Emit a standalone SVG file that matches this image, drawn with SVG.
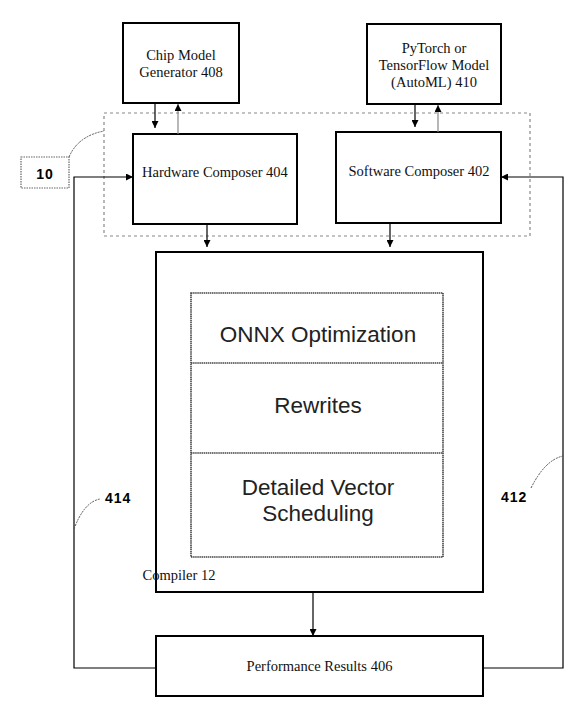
<svg xmlns="http://www.w3.org/2000/svg" width="583" height="702" viewBox="0 0 583 702">
<defs>
<style>
.box{fill:#fff;stroke:#000;stroke-width:2}
.serif{font-family:"Liberation Serif","Times New Roman",serif;font-size:14.5px;fill:#111;text-anchor:middle}
.sans{font-family:"Liberation Sans",Arial,sans-serif;font-size:22.5px;fill:#222;text-anchor:middle}
.lbl{font-family:"Liberation Sans",Arial,sans-serif;font-size:14px;font-weight:bold;fill:#000;letter-spacing:1px}
.ln{fill:none;stroke:#000;stroke-width:1.2}
.gl{fill:none;stroke:#888;stroke-width:1.2}
.lead{fill:none;stroke:#555;stroke-width:1;stroke-dasharray:2 1}
</style>
<marker id="ah" viewBox="0 0 10 10" refX="10" refY="5" markerWidth="7" markerHeight="7" markerUnits="userSpaceOnUse" orient="auto">
<path d="M0,0 L10,5 L0,10 z" fill="#000"/>
</marker>
</defs>
<rect width="583" height="702" fill="#fff"/>

<g id="group-10">
<rect x="104" y="113" width="426" height="123" fill="none" stroke="#888" stroke-width="1.2" stroke-dasharray="3 3"/>
</g>

<g id="chip-model">
<rect class="box" x="123" y="23" width="116" height="80"/>
<text class="serif" x="181" y="60">Chip Model</text>
<text class="serif" x="181" y="77">Generator 408</text>
</g>

<g id="pytorch-model">
<rect class="box" x="367" y="24" width="134" height="80"/>
<text class="serif" x="434" y="53">PyTorch or</text>
<text class="serif" x="434" y="70">TensorFlow Model</text>
<text class="serif" x="434" y="87">(AutoML) 410</text>
</g>

<g id="hardware-composer">
<rect class="box" x="133" y="134" width="164" height="90"/>
<text class="serif" x="215" y="177">Hardware Composer 404</text>
</g>

<g id="software-composer">
<rect class="box" x="336" y="132" width="165" height="91"/>
<text class="serif" x="419" y="176">Software Composer 402</text>
</g>

<g id="label-10">
<rect x="21" y="157" width="48" height="31" fill="#fff" stroke="#666" stroke-width="1.2" stroke-dasharray="1.5 1"/>
<text class="lbl" x="45" y="179" text-anchor="middle" font-size="15">10</text>
</g>

<g id="compiler">
<rect class="box" x="156" y="252" width="327" height="340"/>
<text class="serif" x="179" y="580" text-anchor="start">Compiler 12</text>
<rect x="191" y="293" width="252" height="264" fill="none" stroke="#444" stroke-width="1.6" stroke-dasharray="1.5 0.6"/>
<line x1="191" y1="363" x2="443" y2="363" stroke="#444" stroke-width="1.6" stroke-dasharray="1.5 0.6"/>
<line x1="191" y1="453" x2="443" y2="453" stroke="#444" stroke-width="1.6" stroke-dasharray="1.5 0.6"/>
<text class="sans" x="318" y="342">ONNX Optimization</text>
<text class="sans" x="318" y="413">Rewrites</text>
<text class="sans" x="318" y="495">Detailed Vector</text>
<text class="sans" x="318" y="521">Scheduling</text>
</g>

<g id="performance-results">
<rect class="box" x="156" y="636" width="327" height="60"/>
<text class="serif" x="319.5" y="671">Performance Results 406</text>
</g>

<g id="connectors">
<line class="ln" x1="155" y1="103" x2="155" y2="128" marker-end="url(#ah)"/>
<line class="gl" x1="178" y1="134" x2="178" y2="104" marker-end="url(#ah)"/>
<line class="ln" x1="415" y1="104" x2="415" y2="127" marker-end="url(#ah)"/>
<line class="gl" x1="438" y1="132" x2="438" y2="105" marker-end="url(#ah)"/>
<line class="ln" x1="207" y1="224" x2="207" y2="247" marker-end="url(#ah)"/>
<line class="ln" x1="390" y1="223" x2="390" y2="247" marker-end="url(#ah)"/>
<line class="ln" x1="313" y1="592" x2="313" y2="636" marker-end="url(#ah)"/>
<polyline class="ln" points="156,668 74,668 74,177 133,177" marker-end="url(#ah)"/>
<polyline class="ln" points="483,668 563,668 563,177 501,177" marker-end="url(#ah)"/>
</g>

<g id="leaders">
<path class="lead" d="M69,157 Q78,136 104,131"/>
<path class="lead" d="M74,529 Q84,502 100,499"/>
<path class="lead" d="M531,488 Q545,460 563,456"/>
<text class="lbl" x="105" y="503">414</text>
<text class="lbl" x="501" y="502">412</text>
</g>
</svg>
